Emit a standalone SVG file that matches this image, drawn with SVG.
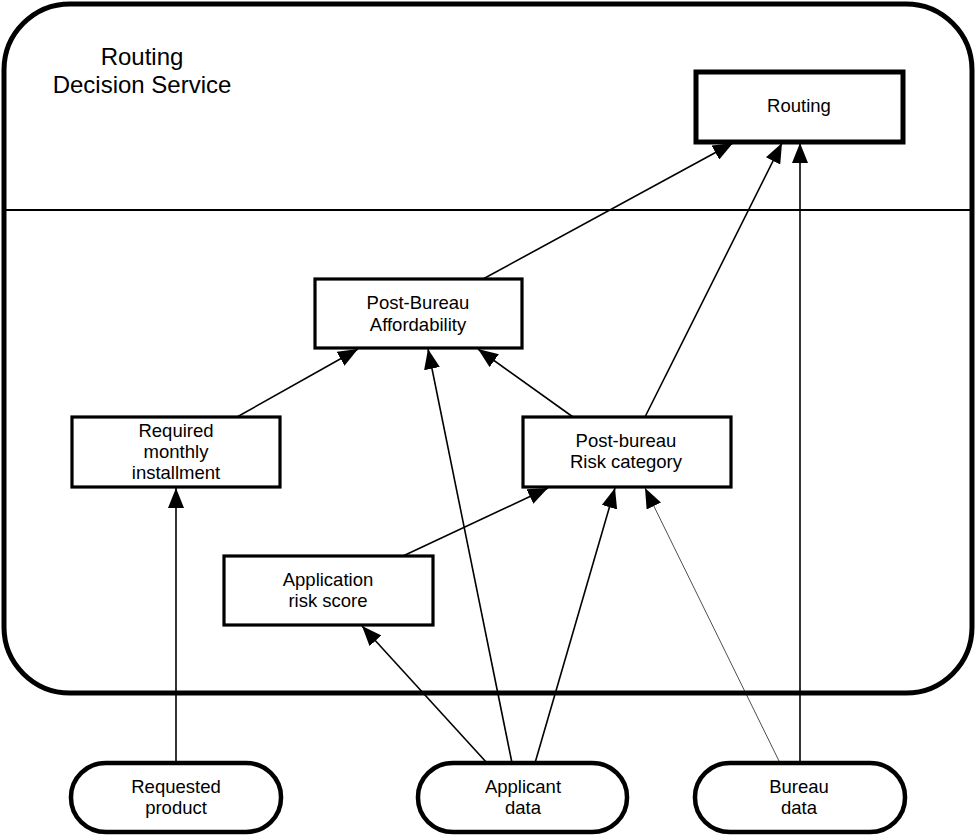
<svg xmlns="http://www.w3.org/2000/svg" width="976" height="836" viewBox="0 0 976 836">
<style>
text{font-family:"Liberation Sans",Arial,sans-serif;fill:#000;text-anchor:middle}
.t{font-size:18.5px}
.title{font-size:24px}
.box{fill:#fff;stroke:#000;stroke-width:3.2}
.bold{fill:#fff;stroke:#000;stroke-width:5}
.in{fill:#fff;stroke:#000;stroke-width:4.5}
.c{stroke:#000;stroke-width:1.6;fill:none;marker-end:url(#ah)}
.thin{stroke-width:0.7}
</style>
<defs>
<marker id="ah" markerUnits="userSpaceOnUse" markerWidth="22" markerHeight="16" refX="20" refY="8" orient="auto">
<path d="M0,0 L20,8 L0,16 Z" fill="#000"/>
</marker>
</defs>
<rect width="976" height="836" fill="#fff"/>
<g id="container">
<rect x="4" y="4" width="968" height="689" rx="66" ry="66" fill="#fff" stroke="#000" stroke-width="5"/>
<line x1="4" y1="210" x2="972" y2="210" stroke="#000" stroke-width="2"/>
<text class="title" x="142" y="65">Routing</text>
<text class="title" x="142" y="93">Decision Service</text>
</g>
<g id="connectors">
<line class="c" x1="483" y1="279" x2="733" y2="143"/>
<line class="c" x1="645" y1="417" x2="782" y2="143"/>
<line class="c" x1="800" y1="763" x2="800" y2="143"/>
<line class="c" x1="237" y1="417" x2="358" y2="349"/>
<line class="c" x1="512" y1="763" x2="428" y2="349"/>
<line class="c" x1="573" y1="417" x2="478" y2="349"/>
<line class="c" x1="403" y1="556" x2="548" y2="488"/>
<line class="c" x1="535" y1="763" x2="615" y2="488"/>
<line class="c thin" x1="780" y1="763" x2="645" y2="488"/>
<line class="c" x1="487" y1="763" x2="362" y2="626"/>
<line class="c" x1="176" y1="763" x2="176" y2="488"/>
</g>
<g id="routing">
<rect class="bold" x="696" y="72" width="207" height="70"/>
<text class="t" x="799" y="112">Routing</text>
</g>
<g id="post-bureau-affordability">
<rect class="box" x="315" y="279" width="207" height="69"/>
<text class="t" x="418" y="309">Post-Bureau</text>
<text class="t" x="418" y="331">Affordability</text>
</g>
<g id="required-monthly-installment">
<rect class="box" x="72" y="417" width="208" height="70"/>
<text class="t" x="176" y="437">Required</text>
<text class="t" x="176" y="458">monthly</text>
<text class="t" x="176" y="479">installment</text>
</g>
<g id="post-bureau-risk-category">
<rect class="box" x="523" y="417" width="208" height="70"/>
<text class="t" x="626" y="447">Post-bureau</text>
<text class="t" x="626" y="468">Risk category</text>
</g>
<g id="application-risk-score">
<rect class="box" x="224" y="556" width="209" height="69"/>
<text class="t" x="328" y="586">Application</text>
<text class="t" x="328" y="607">risk score</text>
</g>
<g id="requested-product">
<rect class="in" x="71" y="763" width="210" height="69" rx="35" ry="34"/>
<text class="t" x="176" y="793">Requested</text>
<text class="t" x="176" y="814">product</text>
</g>
<g id="applicant-data">
<rect class="in" x="418" y="763" width="209" height="69" rx="35" ry="34"/>
<text class="t" x="523" y="793">Applicant</text>
<text class="t" x="523" y="814">data</text>
</g>
<g id="bureau-data">
<rect class="in" x="695" y="763" width="210" height="69" rx="35" ry="34"/>
<text class="t" x="799" y="793">Bureau</text>
<text class="t" x="799" y="814">data</text>
</g>
</svg>
